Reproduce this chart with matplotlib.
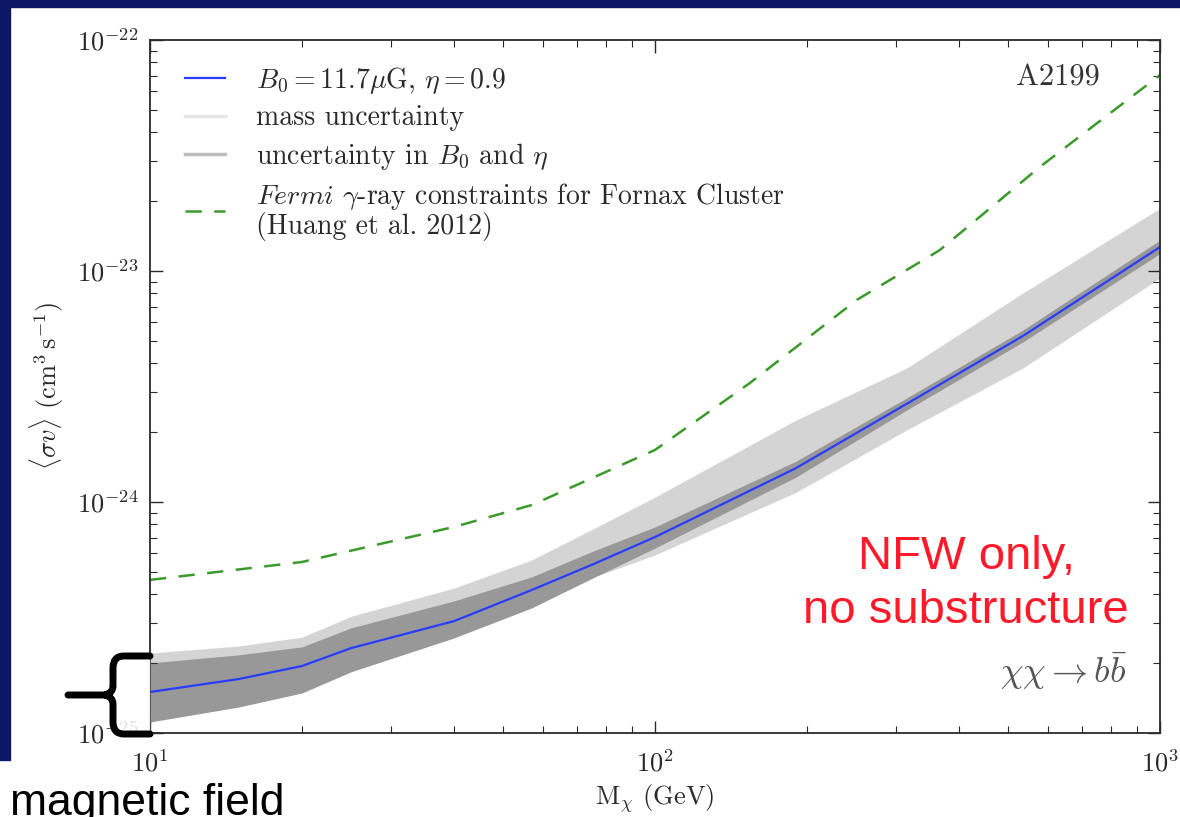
import numpy as np
import matplotlib
matplotlib.use("Agg")
from matplotlib import pyplot as plt
from matplotlib.lines import Line2D
from matplotlib.patches import Rectangle, PathPatch
from matplotlib.path import Path

plt.rcParams['mathtext.fontset'] = 'cm'
plt.rcParams['font.family'] = ['cmr10', 'DejaVu Serif']
plt.rcParams['axes.formatter.use_mathtext'] = True

# masses (GeV)
mass = [10, 15, 20, 25, 40, 57, 75, 100, 190, 315, 535, 1000]
# best-fit curve, B0 = 11.7 muG, eta = 0.9
sigv_best = [1.505e-25, 1.713e-25, 1.95e-25, 2.33e-25, 3.05e-25, 4.16e-25,
             5.35e-25, 7.05e-25, 1.40e-24, 2.66e-24, 5.23e-24, 1.27e-23]
# uncertainty in B0 and eta (dark band)
sigv_b_lo = [1.116e-25, 1.296e-25, 1.49e-25, 1.84e-25, 2.58e-25, 3.48e-25,
             4.67e-25, 6.32e-25, 1.28e-24, 2.50e-24, 4.93e-24, 1.19e-23]
sigv_b_hi = [2.01e-25, 2.18e-25, 2.36e-25, 2.85e-25, 3.73e-25, 4.74e-25,
             6.1e-25, 7.80e-25, 1.50e-24, 2.82e-24, 5.55e-24, 1.36e-23]
# mass uncertainty (light band)
sigv_m_lo = [1.20e-25, 1.39e-25, 1.57e-25, 1.91e-25, 2.63e-25, 3.58e-25,
             4.7e-25, 5.90e-25, 1.10e-24, 2.05e-24, 3.80e-24, 9.33e-24]
sigv_m_hi = [2.22e-25, 2.38e-25, 2.60e-25, 3.2e-25, 4.24e-25, 5.61e-25,
             7.6e-25, 1.05e-24, 2.26e-24, 3.80e-24, 8.03e-24, 1.87e-23]
# Fermi gamma-ray limit for Fornax (Huang et al. 2012)
mass_fermi = [10, 20, 40, 57, 100, 154, 251, 366, 578, 1000]
sigv_fermi = [4.6e-25, 5.5e-25, 7.8e-25, 9.7e-25, 1.68e-24, 3.27e-24,
              7.5e-24, 1.23e-23, 2.82e-23, 7.05e-23]

c_light = '#d4d4d4'
c_dark = '#989898'
c_blue = '#2a3cff'
c_green = '#3a9a2a'
c_text = '#2a2a2a'

W, H = 1180, 817
fig = plt.figure(figsize=(W / 100, H / 100), dpi=100)

# slide frame (navy bars)
navy = '#0c1864'
fig.patches.append(Rectangle((0, 1 - 7 / H), 1, 7 / H, transform=fig.transFigure,
                             color=navy, zorder=0))
fig.patches.append(Rectangle((0, 1 - 760 / H), 10 / W, 760 / H,
                             transform=fig.transFigure, color=navy, zorder=0))

ax = fig.add_axes([150 / W, 84 / H, 1010 / W, 693 / H])
ax.set_xscale('log')
ax.set_yscale('log')

ax.fill_between(mass, sigv_m_lo, sigv_m_hi, color=c_light, lw=0)
ax.fill_between(mass, sigv_b_lo, sigv_b_hi, color=c_dark, lw=0)
ax.plot(mass, sigv_best, color=c_blue, lw=1.6)
ax.plot(mass_fermi, sigv_fermi, color=c_green, lw=1.8, dashes=(6.5, 5))

ax.set_xlim(10, 1000)
ax.set_ylim(1e-25, 1e-22)
ax.tick_params(which='both', direction='in', top=True, right=True,
               labelsize=19, colors=c_text)
ax.tick_params(which='major', length=9, width=1)
ax.tick_params(which='minor', length=5, width=0.8)
ax.tick_params(axis='x', pad=12)
ax.tick_params(axis='y', pad=8)
for s in ax.spines.values():
    s.set_linewidth(1.3)
    s.set_color(c_text)

ax.set_xlabel(r'M$_\chi$ (GeV)', fontsize=19, labelpad=4, color=c_text)
ax.set_ylabel(r'$\langle\sigma v\rangle$ (cm$^3\,$s$^{-1}$)', fontsize=19,
              labelpad=8, color=c_text)

handles = [Line2D([], [], color=c_blue, lw=1.6),
           Line2D([], [], color='#e6e6e6', lw=2.5),
           Line2D([], [], color='#bdbdbd', lw=2.5),
           Line2D([], [], color=c_green, lw=1.8, dashes=(6.5, 5))]
labels = [r'$B_0 = 11.7\mu$G, $\eta = 0.9$',
          'mass uncertainty',
          r'uncertainty in $B_0$ and $\eta$',
          r'$Fermi$ $\gamma$-ray constraints for Fornax Cluster' + '\n(Huang et al. 2012)']
leg = ax.legend(handles, labels, loc='upper left', bbox_to_anchor=(0.018, 0.988),
                frameon=False, fontsize=20, handlelength=1.45, handletextpad=1.1,
                labelspacing=0.33, borderaxespad=0.2)
for t in leg.get_texts():
    t.set_color(c_text)
    t.set_linespacing(1.0)

ax.text(0.94, 0.945, 'A2199', transform=ax.transAxes, ha='right', va='center',
        fontsize=22, color='#333333')
ax.text(0.968, 0.09, r'$\chi\chi \rightarrow b\bar{b}$', transform=ax.transAxes,
        ha='right', va='center', fontsize=26, color='#555555')

# slide annotations
fig.text(966 / W, 1 - 584 / H, 'NFW only,\nno substructure', ha='center',
         va='center', fontsize=34, color='#ff1a2a', family='Liberation Sans',
         linespacing=1.3)
fig.text(10 / W, 2 / H, 'magnetic field', ha='left', va='baseline',
         fontsize=32, color='black', family='Liberation Sans')

# curly brace drawn over the lower left of the axis
def fp(x, y):
    return (x / W, 1 - y / H)

verts = [fp(150, 656), fp(124, 656), fp(113, 656), fp(113, 668), fp(113, 686),
         fp(113, 693), fp(105, 695), fp(68, 695),
         fp(105, 695), fp(113, 697), fp(113, 704), fp(113, 722),
         fp(113, 734), fp(124, 734), fp(150, 734)]
codes = [Path.MOVETO, Path.LINETO, Path.CURVE3, Path.CURVE3, Path.LINETO,
         Path.CURVE3, Path.CURVE3, Path.LINETO,
         Path.MOVETO, Path.CURVE3, Path.CURVE3, Path.LINETO,
         Path.CURVE3, Path.CURVE3, Path.LINETO]
fig.patches.append(Rectangle(fp(116, 731), 33 / W, 72 / H, transform=fig.transFigure,
                             color='white', alpha=0.85, zorder=5))
fig.patches.append(PathPatch(Path(verts, codes), transform=fig.transFigure,
                             fill=False, lw=5, color='black', capstyle='round',
                             joinstyle='round', zorder=6))

fig.savefig('out.png', dpi=100)
